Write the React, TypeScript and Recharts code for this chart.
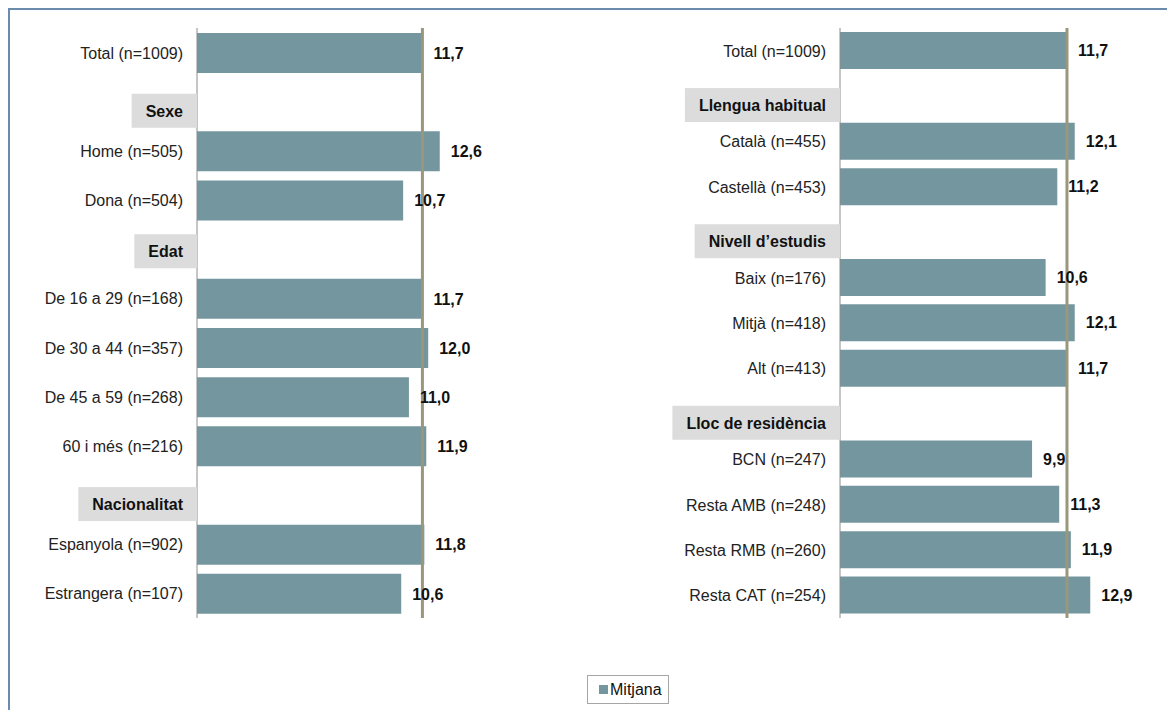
import React from 'react';
import { BarChart, Bar, XAxis, YAxis, ReferenceLine, LabelList } from 'recharts';

// left panel rows; header rows have no value
const LEFT_LABELS = [
  'Total (n=1009)', 'Sexe', 'Home (n=505)', 'Dona (n=504)', 'Edat',
  'De 16 a 29 (n=168)', 'De 30 a 44 (n=357)', 'De 45 a 59 (n=268)', '60 i més (n=216)',
  'Nacionalitat', 'Espanyola (n=902)', 'Estrangera (n=107)',
];
const LEFT_VALUES = [11.7, null, 12.6, 10.7, null, 11.7, 12.0, 11.0, 11.9, null, 11.8, 10.6];

const RIGHT_LABELS = [
  'Total (n=1009)', 'Llengua habitual', 'Català (n=455)', 'Castellà (n=453)',
  'Nivell d’estudis', 'Baix (n=176)', 'Mitjà (n=418)', 'Alt (n=413)',
  'Lloc de residència', 'BCN (n=247)', 'Resta AMB (n=248)', 'Resta RMB (n=260)', 'Resta CAT (n=254)',
];
const RIGHT_VALUES = [11.7, null, 12.1, 11.2, null, 10.6, 12.1, 11.7, null, 9.9, 11.3, 11.9, 12.9];

const MEAN = 11.7;

const BAR = '#74979f';
const REF = '#99977c';
const FONT = '"Liberation Sans", Arial, sans-serif';

const toRows = (labels: string[], values: (number | null)[]) =>
  labels.map((label, i) => ({ label, value: values[i] }));

const HEADERS = new Set(
  [...LEFT_LABELS.filter((_, i) => LEFT_VALUES[i] == null), ...RIGHT_LABELS.filter((_, i) => RIGHT_VALUES[i] == null)]
);

let ctx: CanvasRenderingContext2D | null = null;
function textWidth(s: string) {
  if (!ctx) ctx = document.createElement('canvas').getContext('2d');
  if (!ctx) return s.length * 9;
  ctx.font = `bold 16px ${FONT}`;
  return ctx.measureText(s).width;
}

function CategoryTick(props: any) {
  const { x, y, payload } = props;
  const label: string = payload.value;
  if (HEADERS.has(label)) {
    // header boxes sit a little lower than their row in the original
    const cy = y + (label === 'Edat' ? 2 : 9);
    const w = textWidth(label) + 28;
    return (
      <g>
        <rect x={x - w} y={cy - 17} width={w} height={34} fill="#dcdcdc" />
        <text x={x - 14} y={cy} dy={6} textAnchor="end" fontFamily={FONT} fontSize={16} fontWeight="bold" fill="#111">
          {label}
        </text>
      </g>
    );
  }
  return (
    <text x={x - 14} y={y} dy={6} textAnchor="end" fontFamily={FONT} fontSize={16} fill="#222">
      {label}
    </text>
  );
}

const fmt = (v: any) => (v == null ? '' : Number(v).toFixed(1).replace('.', ','));

function Panel({ rows, axisWidth, plotWidth, barSize }: { rows: any[]; axisWidth: number; plotWidth: number; barSize: number }) {
  return (
    <BarChart
      width={axisWidth + plotWidth + 40}
      height={650}
      data={rows}
      layout="vertical"
      margin={{ top: 28, right: 40, bottom: 32, left: 0 }}
    >
      <XAxis type="number" domain={[0, 15]} hide />
      <YAxis
        type="category"
        dataKey="label"
        width={axisWidth}
        tickLine={false}
        tickSize={0}
        tickMargin={0}
        axisLine={{ stroke: '#8c8c8c' }}
        tick={<CategoryTick />}
        interval={0}
      />
      <Bar dataKey="value" fill={BAR} barSize={barSize} isAnimationActive={false}>
        <LabelList
          dataKey="value"
          position="right"
          offset={11}
          formatter={fmt}
          style={{ fontFamily: FONT, fontSize: 16, fontWeight: 'bold', fill: '#111' }}
        />
      </Bar>
      <ReferenceLine x={MEAN} stroke={REF} strokeWidth={3} ifOverflow="extendDomain" />
    </BarChart>
  );
}

export default function App() {
  return (
    <div style={{ position: 'absolute', left: 0, top: 0, width: 1167, height: 710, background: '#fff', overflow: 'hidden' }}>
      <div style={{ position: 'absolute', left: 8, top: 8, width: 1170, height: 720, borderTop: '2px solid #6a8bab', borderLeft: '2px solid #6a8bab' }} />
      <div style={{ position: 'absolute', left: 0, top: 0 }}>
        <Panel rows={toRows(LEFT_LABELS, LEFT_VALUES)} axisWidth={197} plotWidth={289} barSize={40} />
      </div>
      <div style={{ position: 'absolute', left: 600, top: 0 }}>
        <Panel rows={toRows(RIGHT_LABELS, RIGHT_VALUES)} axisWidth={240} plotWidth={291} barSize={37} />
      </div>
      <div
        style={{
          position: 'absolute', left: 587, top: 675, width: 80, height: 27,
          border: '1px solid #a6a6a6', display: 'flex', alignItems: 'center',
          fontFamily: FONT, fontSize: 16, color: '#111',
        }}
      >
        <span style={{ display: 'inline-block', width: 9, height: 9, background: BAR, marginLeft: 11, marginRight: 2 }} />
        Mitjana
      </div>
    </div>
  );
}
